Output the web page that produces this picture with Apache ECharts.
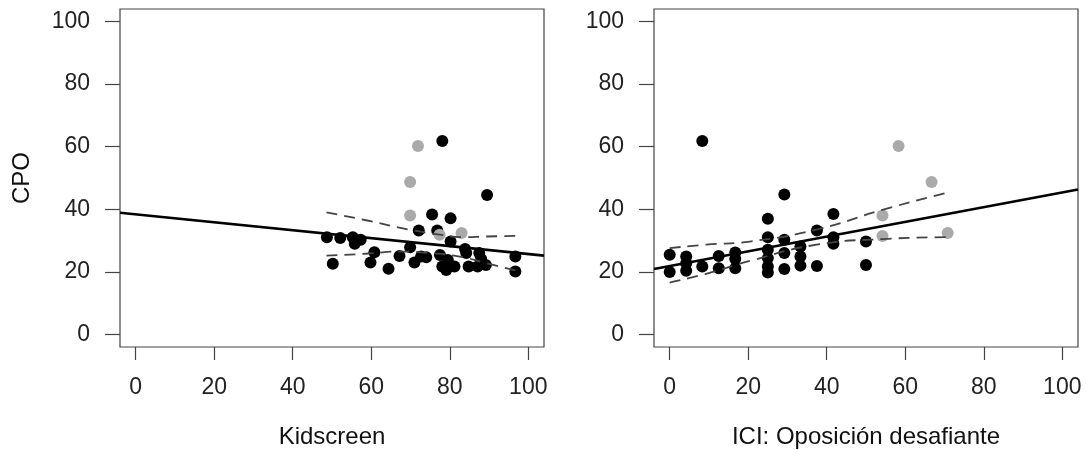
<!DOCTYPE html>
<html>
<head>
<meta charset="utf-8">
<script src="https://cdn.jsdelivr.net/npm/echarts@6/dist/echarts.min.js"></script>
<style>
  html, body { margin: 0; padding: 0; background: #fff; }
  #chart { width: 1086px; height: 450px; }
</style>
</head>
<body>
<div id="chart"></div>
<script>
// tick values shared by both panels
var ticks = [0, 20, 40, 60, 80, 100]

// left panel: Kidscreen vs CPO
var kidsX = [48.7, 52.1, 55.3, 55.8, 57.3, 50.2, 60.8, 59.8, 64.4, 67.2, 69.9, 71.0, 72.7, 74.0, 72.1, 76.8, 75.5, 80.2,
  78.1, 89.5, 80.2, 77.5, 78.1, 79.1, 79.5, 81.2, 83.9, 84.2, 84.8, 87.5, 88.0, 87.1, 89.2, 96.7, 96.7]
var kidsCpo = [31.1, 30.8, 31.1, 29.0, 30.3, 22.6, 26.3, 23.0, 21.0, 25.1, 27.9, 23.0, 24.9, 24.7, 33.2, 33.2, 38.3, 37.1,
  61.8, 44.6, 29.7, 25.4, 21.7, 20.6, 23.8, 21.7, 27.3, 26.0, 21.7, 26.0, 24.1, 21.7, 22.2, 24.9, 20.1]
var kidsGrayX = [71.9, 69.9, 69.9, 77.4, 83.0]
var kidsGrayCpo = [60.2, 48.7, 38.0, 31.9, 32.4]
var kidsFitX = [-4, 104]
var kidsFitY = [38.9, 25.2]
var kidsUpX = [48.6, 58.7, 69.7, 77.4, 83.3, 89.2, 96.9]
var kidsUpY = [39.0, 36.5, 33.5, 31.9, 31.1, 31.3, 31.5]
var kidsLoX = [48.6, 58.7, 67.2, 75.0, 82.5, 89.2, 96.9]
var kidsLoY = [25.2, 25.8, 26.5, 26.0, 24.9, 22.8, 20.4]

// right panel: ICI oposicion desafiante vs CPO
var iciX = [8.3, 0, 0, 4.2, 4.2, 4.2, 8.3, 12.5, 12.5, 16.7, 16.7, 16.7, 29.2, 25, 25, 25, 25, 25, 25,
  29.2, 29.2, 29.2, 33.3, 33.3, 33.3, 37.5, 37.5, 41.7, 41.7, 41.7, 50, 50]
var iciCpo = [61.8, 25.5, 20.0, 24.9, 22.8, 20.4, 21.7, 25.1, 21.2, 26.2, 24.1, 21.2, 44.7, 37.0, 31.1, 27.1, 24.4, 21.7, 19.8,
  30.3, 26.0, 20.9, 28.1, 24.9, 22.0, 33.2, 21.9, 38.5, 31.1, 29.0, 29.7, 22.2]
var iciGrayX = [58.3, 66.7, 54.2, 54.2, 70.8]
var iciGrayCpo = [60.2, 48.7, 38.0, 31.5, 32.4]
var iciFitX = [-4, 104]
var iciFitY = [20.9, 46.3]
var iciUpX = [0, 9.3, 20.4, 37.4, 54.4, 70.9]
var iciUpY = [27.6, 28.7, 29.7, 33.5, 39.9, 45.4]
var iciLoX = [0, 9.3, 20.4, 37.4, 54.4, 70.9]
var iciLoY = [16.6, 19.4, 23.5, 28.7, 30.5, 31.1]

function zip(xs, ys) {
  return xs.map(function (x, i) { return [x, ys[i]] })
}

var font = '"Liberation Sans", Arial, Helvetica, sans-serif'

function xAxisFor(idx, name) {
  return {
    type: 'value', gridIndex: idx, min: -4, max: 104,
    name: name, nameLocation: 'middle', nameGap: 78, nameMoveOverlap: false,
    nameTextStyle: { fontSize: 24, color: '#111', fontFamily: font },
    axisLine: { show: false, onZero: false },
    splitLine: { show: false },
    axisTick: { show: true, customValues: ticks, length: 13, lineStyle: { color: '#444', width: 1.2 } },
    axisLabel: { customValues: ticks, fontSize: 23, color: '#222', fontFamily: font, margin: 29 }
  }
}

function yAxisFor(idx, name) {
  return {
    type: 'value', gridIndex: idx, min: -4, max: 104,
    name: name, nameLocation: 'middle', nameGap: 86, nameMoveOverlap: false,
    nameTextStyle: { fontSize: 24, color: '#111', fontFamily: font },
    axisLine: { show: false, onZero: false },
    splitLine: { show: false },
    axisTick: { show: true, customValues: ticks, length: 15, lineStyle: { color: '#444', width: 1.2 } },
    axisLabel: { customValues: ticks, fontSize: 23, color: '#222', fontFamily: font, margin: 30 }
  }
}

function dots(idx, data, color) {
  return {
    type: 'scatter', xAxisIndex: idx, yAxisIndex: idx, data: data,
    symbolSize: 12, itemStyle: { color: color, opacity: 1 }, z: 2, silent: true
  }
}

function line(idx, data, dashed) {
  return {
    type: 'line', xAxisIndex: idx, yAxisIndex: idx, data: data,
    showSymbol: false, smooth: dashed, z: 3, silent: true,
    lineStyle: dashed
      ? { color: '#444', width: 1.8, type: [11, 7] }
      : { color: '#000', width: 2.6 }
  }
}

var chart = echarts.init(document.getElementById('chart'))
chart.setOption({
  animation: false,
  backgroundColor: '#fff',
  grid: [
    { left: 120, top: 9, width: 424, height: 338, show: true, borderColor: '#444', borderWidth: 1.2, outerBoundsMode: 'none' },
    { left: 654, top: 9, width: 424, height: 338, show: true, borderColor: '#444', borderWidth: 1.2, outerBoundsMode: 'none' }
  ],
  xAxis: [xAxisFor(0, 'Kidscreen'), xAxisFor(1, 'ICI: Oposición desafiante')],
  yAxis: [yAxisFor(0, 'CPO'), yAxisFor(1, '')],
  series: [
    dots(0, zip(kidsX, kidsCpo), '#000'),
    dots(0, zip(kidsGrayX, kidsGrayCpo), '#aaa'),
    line(0, zip(kidsFitX, kidsFitY), false),
    line(0, zip(kidsUpX, kidsUpY), true),
    line(0, zip(kidsLoX, kidsLoY), true),
    dots(1, zip(iciX, iciCpo), '#000'),
    dots(1, zip(iciGrayX, iciGrayCpo), '#aaa'),
    line(1, zip(iciFitX, iciFitY), false),
    line(1, zip(iciUpX, iciUpY), true),
    line(1, zip(iciLoX, iciLoY), true)
  ]
})
</script>
</body>
</html>
